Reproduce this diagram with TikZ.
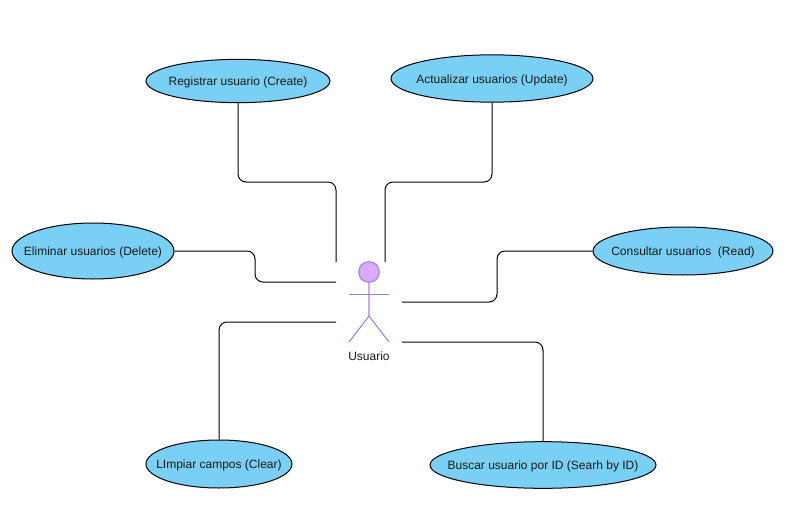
\documentclass[tikz,border=0pt]{standalone}
\usepackage{fontspec}
\setmainfont{Liberation Sans}
\usetikzlibrary{shapes.geometric}
\definecolor{ucfill}{HTML}{7ACFF5}
\definecolor{actorfill}{HTML}{D5ACF7}
\definecolor{actorline}{HTML}{A27BCF}
\newcommand{\uctext}[1]{\makebox[0pt]{\raisebox{-3.6pt}[0pt][0pt]{#1}}}
\tikzset{
  usecase/.style={ellipse,draw=black,fill=ucfill,line width=0.75pt,inner sep=0pt,font=\fontsize{9}{11}\selectfont,text=black!90},
  conn/.style={draw=black,line width=0.75pt,rounded corners=6pt},
  limb/.style={draw=actorline,line width=0.75pt},
}
\begin{document}
\begin{tikzpicture}[x=0.75pt,y=-0.75pt]
\useasboundingbox (0,0) rectangle (801,525);
\fill[white] (0,0) rectangle (801,525);
\node[usecase,minimum width=138pt,minimum height=32.5pt] (reg) at (238,81) {\uctext{Registrar usuario (Create)}};
\node[usecase,minimum width=151.5pt,minimum height=35.5pt] (act) at (492,78.5) {\uctext{Actualizar usuarios (Update)}};
\node[usecase,minimum width=121.5pt,minimum height=42pt] (eli) at (93,251) {\uctext{Eliminar usuarios (Delete)}};
\node[usecase,minimum width=135pt,minimum height=36pt] (con) at (683,251) {\uctext{Consultar usuarios\ \ (Read)}};
\node[usecase,minimum width=109.5pt,minimum height=36pt] (lim) at (219,464) {\uctext{LImpiar campos (Clear)}};
\node[usecase,minimum width=169.5pt,minimum height=35pt] (bus) at (543,465) {\uctext{Buscar usuario por ID (Searh by ID)}};
\coordinate (e1) at (336,262);
\coordinate (e2) at (385,262);
\coordinate (e3) at (336,282);
\coordinate (e4) at (402,302);
\coordinate (e5) at (336,322);
\coordinate (e6) at (402,342);
\draw[conn] (reg.south) -- (238,182) -- (336,182) -- (e1);
\draw[conn] (act.south) -- (492,182) -- (385,182) -- (e2);
\draw[conn] (eli.east) -- (255,251) -- (255,282) -- (e3);
\draw[conn] (con.west) -- (497,251) -- (497,302) -- (e4);
\draw[conn] (lim.north) -- (219,322) -- (e5);
\draw[conn] (bus.north) -- (543,342) -- (e6);
% actor
\node[circle,draw=actorline,fill=actorfill,line width=0.75pt,minimum size=15.5pt,inner sep=0pt] (head) at (369,272) {};
\coordinate (hip) at (369,316);
\coordinate (armL) at (349,294);
\coordinate (armR) at (389,294);
\coordinate (legL) at (349,342);
\coordinate (legR) at (389,342);
\draw[limb,draw=actorline!60,line width=1.4pt] (head.south) -- (hip);
\draw[limb] (armL) -- (armR);
\draw[limb] (legL) -- (hip) -- (legR);
\node[font=\fontsize{9}{11}\selectfont,text=black!90,inner sep=0pt] (lab) at (369,356) {Usuario};
\end{tikzpicture}
\end{document}
